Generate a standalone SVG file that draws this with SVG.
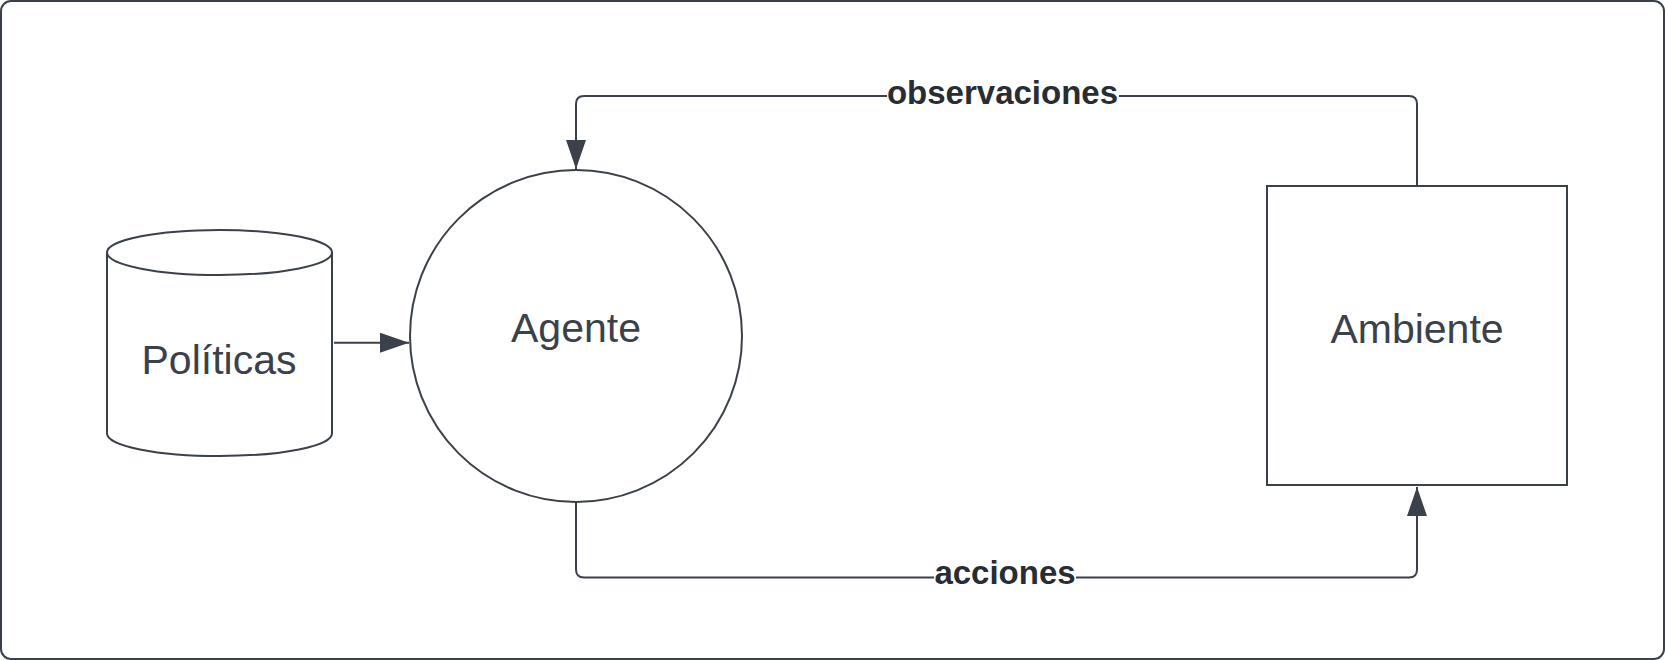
<svg xmlns="http://www.w3.org/2000/svg" width="1665" height="660" viewBox="0 0 1665 660">
  <defs>
    <style>
      .shape { fill: #ffffff; stroke: #3a414a; stroke-width: 2; }
      .conn { fill: none; stroke: #3a414a; stroke-width: 2; }
      .node-text { font-family: "Liberation Sans", Arial, sans-serif; font-size: 41px; fill: #3a414a; text-anchor: middle; }
      .label { font-family: "Liberation Sans", Arial, sans-serif; font-size: 33px; font-weight: bold; fill: #282c33; text-anchor: middle; }
      .label-bg { fill: #ffffff; }
    </style>
    <marker id="arrow" markerUnits="userSpaceOnUse" markerWidth="30" markerHeight="21" refX="29" refY="10" orient="auto">
      <path d="M0,0 L29,10 L0,20 Z" fill="#3a414a"/>
    </marker>
  </defs>
  <rect x="0" y="0" width="1665" height="660" fill="#ffffff"/>
  <rect id="frame" x="1" y="1" width="1663" height="658" rx="10" ry="10" fill="#ffffff" stroke="#3a414a" stroke-width="2"/>

  <g id="connectors">
    <line class="conn" x1="334" y1="342.7" x2="409" y2="342.7" marker-end="url(#arrow)"/>
    <path class="conn" d="M1417,186 L1417,104 Q1417,96 1409,96 L584,96 Q576,96 576,104 L576,169" marker-end="url(#arrow)"/>
    <path class="conn" d="M576,502 L576,569.5 Q576,577.5 584,577.5 L1409,577.5 Q1417,577.5 1417,569.5 L1417,487" marker-end="url(#arrow)"/>
    <g id="label-observaciones">
      <rect class="label-bg" x="887" y="78" width="232" height="32"/>
      <text class="label" x="1002.5" y="103.6">observaciones</text>
    </g>
    <g id="label-acciones">
      <rect class="label-bg" x="934" y="560" width="142" height="32"/>
      <text class="label" x="1005" y="583.6">acciones</text>
    </g>
  </g>

  <g id="node-politicas">
    <path class="shape" d="M107,252.5 L107,433.5 A112.5,22.5 0 0 0 332,433.5 L332,252.5 Z"/>
    <ellipse class="shape" cx="219.5" cy="252.5" rx="112.5" ry="22.5"/>
    <text class="node-text" x="219" y="374">Políticas</text>
  </g>

  <g id="node-agente">
    <circle class="shape" cx="576" cy="336" r="166"/>
    <text class="node-text" x="576" y="341.7">Agente</text>
  </g>

  <g id="node-ambiente">
    <rect class="shape" x="1267" y="186" width="300" height="299"/>
    <text class="node-text" x="1417" y="342.7">Ambiente</text>
  </g>
</svg>
